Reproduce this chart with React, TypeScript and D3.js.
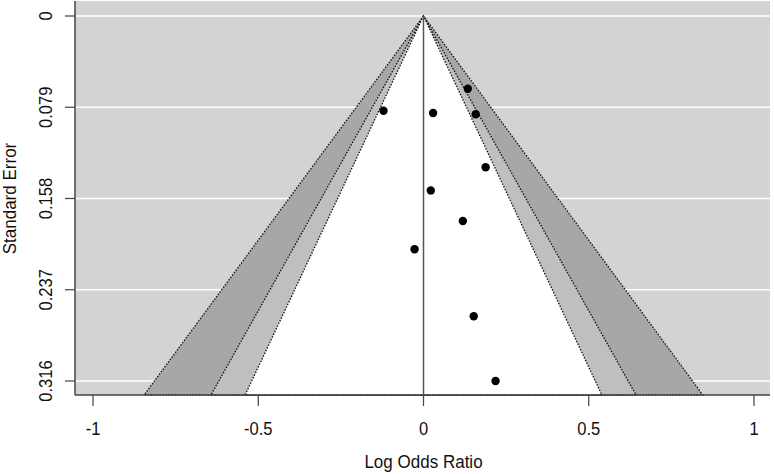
import * as d3 from "d3";

// funnel plot data (log odds ratio vs standard error)
const logOR = [0.134, -0.121, 0.029, 0.158, 0.188, 0.022, 0.119, -0.027, 0.152, 0.218];
const stdErr = [0.063, 0.082, 0.084, 0.085, 0.131, 0.151, 0.1775, 0.202, 0.26, 0.316];

const xTicks = [-1, -0.5, 0, 0.5, 1];
const seTicks = [0, 0.079, 0.158, 0.237, 0.316];

// contour levels: 99%, 95%, 90%
const contourZ = [2.576, 1.96, 1.645];
const contourFill = ["#a7a7a7", "#bfbfbf", "#ffffff"];

const W = 774;
const H = 474;
const plotLeft = 75;
const plotRight = 770;
const plotTop = 1;
const plotBottom = 395;

export default function App() {
  const x = d3.scaleLinear([-1, 1], [93, 754]);
  const y = d3.scaleLinear([0, 0.316], [16, 381]);
  const seMax = y.invert(plotBottom);

  const line = d3.line<[number, number]>((d) => x(d[0]), (d) => y(d[1]));
  const font = "'Liberation Sans', Arial, sans-serif";
  const axisColor = "#444";
  const squeeze = "scale(0.92,1)";

  return (
    <svg width={W} height={H} style={{ position: "absolute", left: 0, top: 0 }} fontFamily={font}>
      <rect x={0} y={0} width={W} height={H} fill="#fff" />
      {/* background */}
      <rect x={plotLeft} y={plotTop} width={plotRight - plotLeft} height={plotBottom - plotTop} fill="#d3d3d3" />
      {/* grid lines */}
      <g stroke="#fff" strokeWidth={1.5}>
        {seTicks.map((t) => (
          <line key={t} x1={plotLeft} x2={plotRight} y1={y(t)} y2={y(t)} />
        ))}
      </g>
      {/* contour regions */}
      {contourZ.map((z, i) => (
        <path
          key={z}
          d={line([[0, 0], [-z * seMax, seMax], [z * seMax, seMax]])! + "Z"}
          fill={contourFill[i]}
          stroke="#111"
          strokeWidth={1.3}
          strokeDasharray="1.5,1.5"
        />
      ))}
      {/* vertical reference line */}
      <line x1={x(0)} x2={x(0)} y1={y(0)} y2={plotBottom} stroke="#555" strokeWidth={1.5} />
      {/* points */}
      <g fill="#000">
        {logOR.map((v, i) => (
          <circle key={i} cx={x(v)} cy={y(stdErr[i])} r={4.2} />
        ))}
      </g>
      {/* axes */}
      <line x1={plotLeft} x2={plotLeft} y1={plotTop} y2={plotBottom} stroke={axisColor} strokeWidth={1.5} />
      <line x1={plotLeft} x2={plotRight} y1={plotBottom} y2={plotBottom} stroke={axisColor} strokeWidth={1.5} />
      <g stroke={axisColor} strokeWidth={1.2}>
        {xTicks.map((t) => (
          <line key={t} x1={x(t)} x2={x(t)} y1={plotBottom} y2={plotBottom + 11} />
        ))}
        {seTicks.map((t) => (
          <line key={t} x1={plotLeft - 10} x2={plotLeft} y1={y(t)} y2={y(t)} />
        ))}
      </g>
      <g fontSize={18} fill="#111" textAnchor="middle">
        {xTicks.map((t) => (
          <text key={t} transform={`translate(${x(t)},435) ${squeeze}`}>
            {String(t)}
          </text>
        ))}
        {seTicks.map((t) => (
          <text key={t} transform={`translate(52,${y(t)}) rotate(-90) ${squeeze}`}>
            {String(t)}
          </text>
        ))}
      </g>
      <text transform={`translate(${x(0)},468) ${squeeze}`} fontSize={18.5} textAnchor="middle" fill="#111">
        Log Odds Ratio
      </text>
      <text transform={`translate(16,${y(0.158)}) rotate(-90) ${squeeze}`} fontSize={18.5} textAnchor="middle" fill="#111">
        Standard Error
      </text>
    </svg>
  );
}
